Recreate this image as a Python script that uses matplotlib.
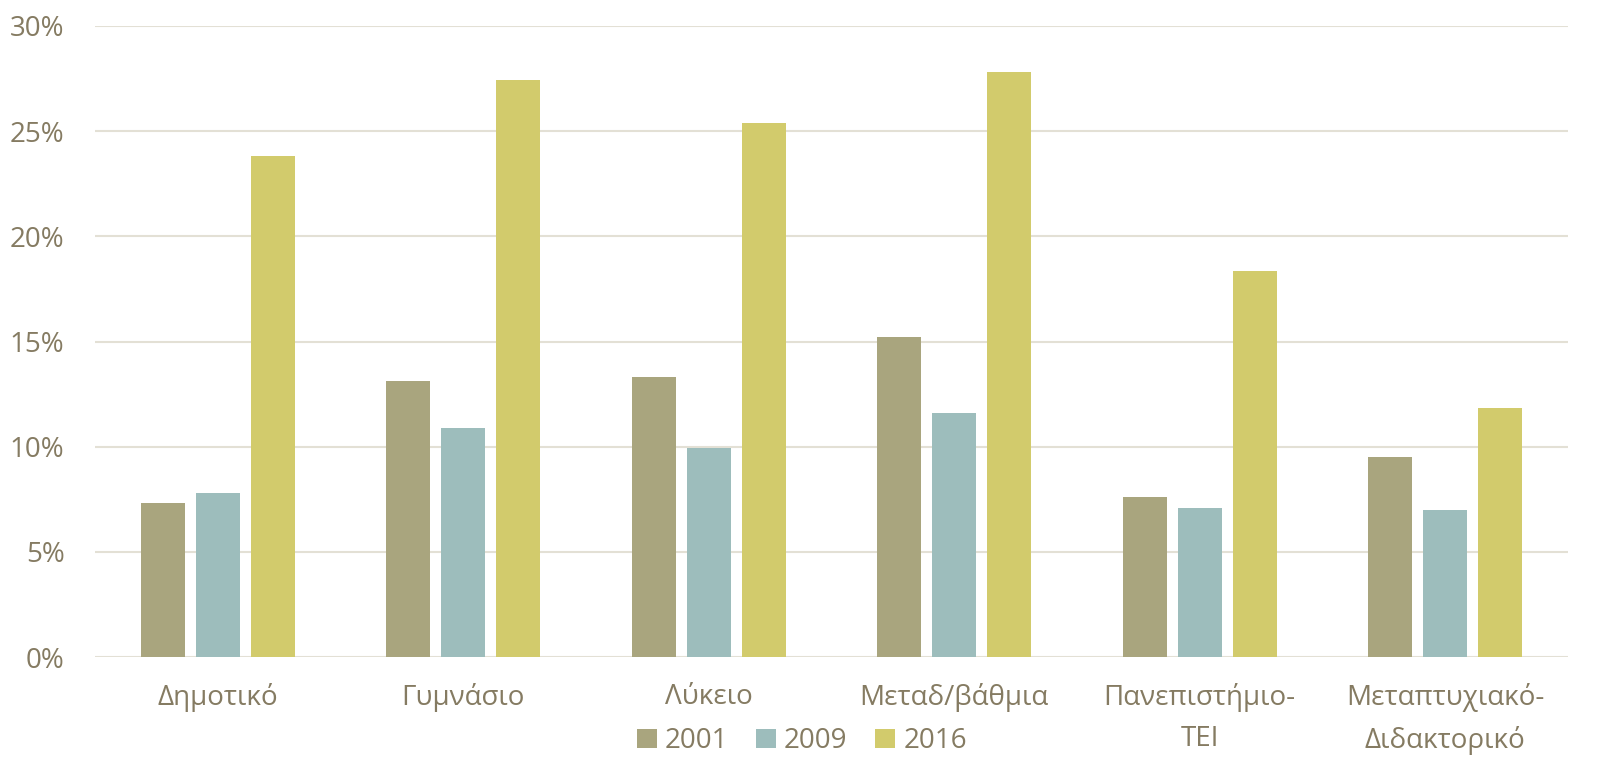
import matplotlib
matplotlib.use('Agg')
import matplotlib.pyplot as plt
import numpy as np
from matplotlib.ticker import PercentFormatter

# Δεδομένα
categories = ["Δημοτικό", "Γυμνάσιο", "Λύκειο", "Μεταδ/βάθμια",
              "Πανεπιστήμιο-\nΤΕΙ", "Μεταπτυχιακό-\nΔιδακτορικό"]
years = ["2001", "2009", "2016"]
v2001 = [7.3, 13.1, 13.3, 15.2, 7.6, 9.5]
v2009 = [7.8, 10.9, 9.95, 11.6, 7.1, 7.0]
v2016 = [23.8, 27.45, 25.4, 27.8, 18.35, 11.85]

colors = ["#A9A57E", "#9DBDBC", "#D2CB6C"]
text_color = "#857B62"
grid_color = "#E3E0D5"

plt.rcParams['font.family'] = ['Open Sans', 'DejaVu Sans']

fig = plt.figure(figsize=(16.04, 7.7), dpi=100)
ax = fig.add_axes([95 / 1604, 1 - 657 / 770, (1568 - 95) / 1604, (657 - 26) / 770])

x = np.arange(len(categories))
width = 0.18
step = 0.224
for i, (vals, yr) in enumerate(zip([v2001, v2009, v2016], years)):
    ax.bar(x + (i - 1) * step, vals, width, color=colors[i], label=yr, zorder=3)

ax.set_xlim(-0.5, len(categories) - 0.5)
ax.set_ylim(0, 30)
ax.set_yticks(np.arange(0, 31, 5))
ax.yaxis.set_major_formatter(PercentFormatter(decimals=0))
ax.grid(axis='y', color=grid_color, linewidth=1.5, zorder=0)
ax.set_xticks(x)
ax.set_xticklabels(categories, linespacing=1.6)
ax.tick_params(axis='both', length=0, labelsize=20, colors=text_color)
ax.tick_params(axis='x', pad=19)
ax.tick_params(axis='y', pad=22)
for s in ax.spines.values():
    s.set_visible(False)

leg = fig.legend(loc='center', bbox_to_anchor=(0.5, 1 - 741 / 770), ncol=3, frameon=False,
                 fontsize=20, handlelength=0.7, handleheight=0.7, handletextpad=0.3,
                 columnspacing=1.0, borderpad=0)
for t in leg.get_texts():
    t.set_color(text_color)

fig.savefig("out.png", dpi=100)
